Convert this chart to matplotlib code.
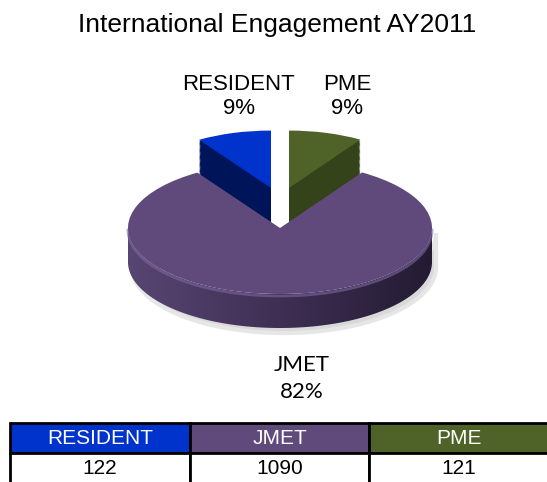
import numpy as np
import matplotlib.pyplot as plt
from matplotlib.patches import Polygon

categories = ['RESIDENT', 'JMET', 'PME']
counts = [122, 1090, 121]
top_colors = ['#0033CC', '#604A7B', '#4F6228']
side_colors = ['#00145A', '#3E2F52', '#35431B']

W, H = 547, 482
fig = plt.figure(figsize=(W / 100, H / 100), dpi=100)
ax = fig.add_axes([0, 0, 1, 1])
ax.axis('off')

# disc geometry in pixels: centre, half width, half height
cx_px, cy_px, rx_px, ry_px = 280, 228, 152, 66
depth = 34 / ry_px
small_depth = 42 / ry_px          # hidden part goes behind the big slice
lift = (-9 / rx_px, 40 / ry_px)   # how far the two small slices are pulled out
small_r = 0.87

total = sum(counts)
pct = [round(c / total * 100) for c in counts]

# small slices: stack of layers for the thickness, top face last
nlay = 36
for k in range(nlay, -1, -1):
    wedges, _ = ax.pie(counts, startangle=90, colors=side_colors if k else top_colors,
                       wedgeprops={'linewidth': 0, 'edgecolor': 'none'})
    for i, w in enumerate(wedges):
        if categories[i] == 'JMET':
            if k == 0:
                w.set_zorder(4)
            else:
                w.set_visible(False)
            continue
        sx = lift[0] if i == 0 else -lift[0]
        w.set_center((sx, lift[1] - k * small_depth / nlay))
        w.set_radius(small_r)
        w.set_zorder(1 if k else 2)

# JMET side band with left-to-right shading
t = np.linspace(np.pi, 2 * np.pi, 300)
top = np.column_stack([np.cos(t), np.sin(t)])
bot = top[::-1] - [0, depth]
band = np.vstack([top, bot])

shadow = Polygon(band + [4 / rx_px, -5 / ry_px], closed=True, facecolor='#d9d9d9',
                 edgecolor='#e6e6e6', lw=3, zorder=2.5)
ax.add_patch(shadow)

poly = Polygon(band, closed=True, facecolor='none', edgecolor='none', zorder=3)
ax.add_patch(poly)
left_c = np.array([88, 70, 114]) / 255
mid_c = np.array([62, 47, 84]) / 255
right_c = np.array([36, 27, 50]) / 255
s = np.linspace(0, 1, 256)[:, None]
grad = np.where(s < 0.5, left_c + (mid_c - left_c) * (s / 0.5), mid_c + (right_c - mid_c) * ((s - 0.5) / 0.5))
im = ax.imshow(grad[None, :, :], extent=[-1, 1, -1 - depth, 0], aspect='auto',
               interpolation='bicubic', zorder=3)
im.set_clip_path(poly)
ax.plot(top[:, 0], top[:, 1] - 2 / ry_px, color='#7d67a0', lw=2, alpha=0.6, zorder=3.5)

# labels
ax.text(-0.27, 1.995, f'{categories[0]}\n{pct[0]}%', ha='center', va='center',
        fontsize=16, family='Liberation Sans', zorder=6)
ax.text(0.44, 1.995, f'{categories[2]}\n{pct[2]}%', ha='center', va='center',
        fontsize=16, family='Liberation Sans', zorder=6)
ax.text(0.145, -2.28, f'{categories[1]}\n{pct[1]}%', ha='center', va='center',
        fontsize=16, family='Lato', linespacing=1.45, zorder=6)

ax.set_aspect('auto')
ax.set_xlim(-cx_px / rx_px, (W - cx_px) / rx_px)
ax.set_ylim((cy_px - H) / ry_px, cy_px / ry_px)

fig.text(277.5 / W, 1 - 25 / H, 'International Engagement AY2011', ha='center', va='center',
         fontsize=19, family='Liberation Sans')

# data table under the chart
tax = fig.add_axes([10 / W, -1 / H, 539 / W, 60 / H])
tax.axis('off')
tbl = tax.table(cellText=[[str(c) for c in counts]], colLabels=categories,
                cellLoc='center', bbox=[0, 0, 1, 1])
tbl.auto_set_font_size(False)
tbl.set_fontsize(15)
for (r, c), cell in tbl.get_celld().items():
    cell.set_linewidth(2)
    cell.set_edgecolor('black')
    cell.get_text().set_family('Liberation Sans')
    if r == 0:
        cell.set_facecolor(top_colors[c])
        cell.get_text().set_color('white')

fig.savefig('out.png', dpi=100)
